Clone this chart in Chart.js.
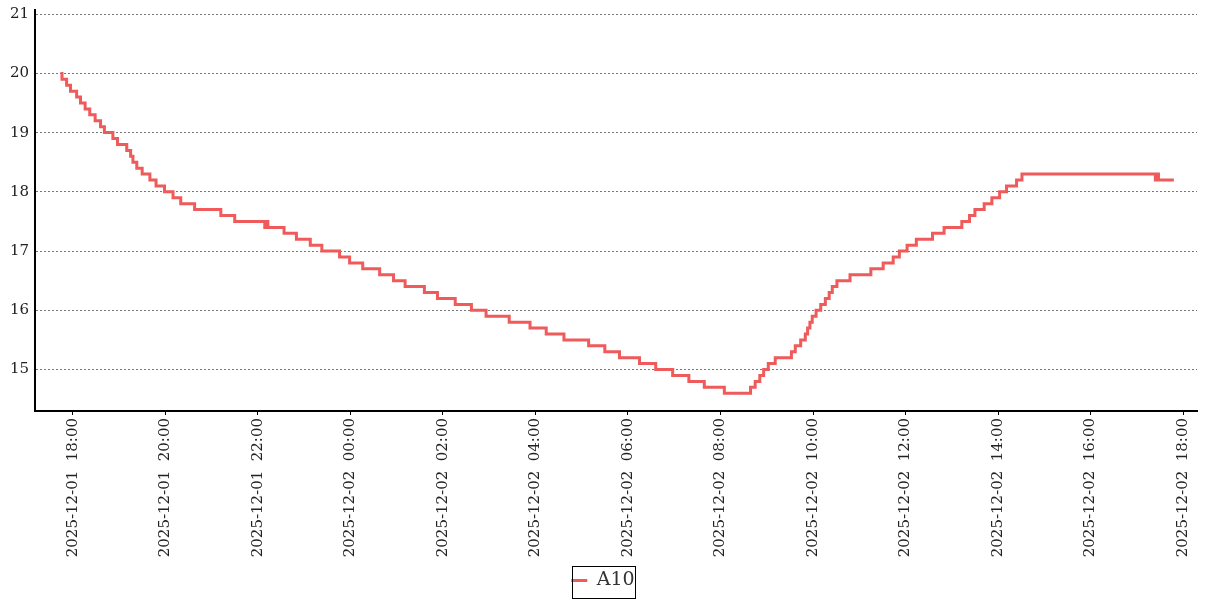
<!DOCTYPE html>
<html>
<head>
<meta charset="utf-8">
<script src="https://cdn.jsdelivr.net/npm/chart.js@4.4.1/dist/chart.umd.min.js"></script>
<style>
  html, body { margin: 0; padding: 0; background: #fff; }
  #wrap { width: 1207px; height: 600px; position: relative; }
</style>
</head>
<body>
<div id="wrap"><canvas id="myChart"></canvas></div>
<script>
// ---------------------------------------------- A10 temperature -------------------------------------------
const seriesName = "A10";

// time at which each new reading starts (value holds until the next one)
const readTimes = [
    "2025-12-01 17:44", "2025-12-01 17:46", "2025-12-01 17:52", "2025-12-01 17:57", "2025-12-01 18:05",
    "2025-12-01 18:10", "2025-12-01 18:16", "2025-12-01 18:22", "2025-12-01 18:29", "2025-12-01 18:36",
    "2025-12-01 18:41", "2025-12-01 18:52", "2025-12-01 18:58", "2025-12-01 19:10", "2025-12-01 19:15",
    "2025-12-01 19:18", "2025-12-01 19:23", "2025-12-01 19:30", "2025-12-01 19:40", "2025-12-01 19:48",
    "2025-12-01 19:59", "2025-12-01 20:10", "2025-12-01 20:20", "2025-12-01 20:38", "2025-12-01 21:12",
    "2025-12-01 21:30", "2025-12-01 22:09", "2025-12-01 22:12", "2025-12-01 22:13", "2025-12-01 22:34",
    "2025-12-01 22:50", "2025-12-01 23:08", "2025-12-01 23:23", "2025-12-01 23:46", "2025-12-01 23:59",
    "2025-12-02 00:16", "2025-12-02 00:38", "2025-12-02 00:56", "2025-12-02 01:11", "2025-12-02 01:36",
    "2025-12-02 01:53", "2025-12-02 02:16", "2025-12-02 02:37", "2025-12-02 02:56", "2025-12-02 03:26",
    "2025-12-02 03:53", "2025-12-02 04:14", "2025-12-02 04:37", "2025-12-02 05:09", "2025-12-02 05:30",
    "2025-12-02 05:49", "2025-12-02 06:15", "2025-12-02 06:36", "2025-12-02 06:58", "2025-12-02 07:19",
    "2025-12-02 07:39", "2025-12-02 08:05", "2025-12-02 08:39", "2025-12-02 08:45", "2025-12-02 08:51",
    "2025-12-02 08:56", "2025-12-02 09:02", "2025-12-02 09:11", "2025-12-02 09:32", "2025-12-02 09:37",
    "2025-12-02 09:44", "2025-12-02 09:50", "2025-12-02 09:53", "2025-12-02 09:56", "2025-12-02 09:59",
    "2025-12-02 10:04", "2025-12-02 10:10", "2025-12-02 10:16", "2025-12-02 10:21", "2025-12-02 10:25",
    "2025-12-02 10:31", "2025-12-02 10:48", "2025-12-02 11:15", "2025-12-02 11:31", "2025-12-02 11:44",
    "2025-12-02 11:52", "2025-12-02 12:02", "2025-12-02 12:14", "2025-12-02 12:35", "2025-12-02 12:50",
    "2025-12-02 13:13", "2025-12-02 13:23", "2025-12-02 13:30", "2025-12-02 13:42", "2025-12-02 13:52",
    "2025-12-02 14:02", "2025-12-02 14:11", "2025-12-02 14:24", "2025-12-02 14:31", "2025-12-02 17:24",
    "2025-12-02 17:27", "2025-12-02 17:28", "2025-12-02 17:48"
];
const readValues = [
    20.0, 19.9, 19.8, 19.7, 19.6,
    19.5, 19.4, 19.3, 19.2, 19.1,
    19.0, 18.9, 18.8, 18.7, 18.6,
    18.5, 18.4, 18.3, 18.2, 18.1,
    18.0, 17.9, 17.8, 17.7, 17.6,
    17.5, 17.4, 17.5, 17.4, 17.3,
    17.2, 17.1, 17.0, 16.9, 16.8,
    16.7, 16.6, 16.5, 16.4, 16.3,
    16.2, 16.1, 16.0, 15.9, 15.8,
    15.7, 15.6, 15.5, 15.4, 15.3,
    15.2, 15.1, 15.0, 14.9, 14.8,
    14.7, 14.6, 14.7, 14.8, 14.9,
    15.0, 15.1, 15.2, 15.3, 15.4,
    15.5, 15.6, 15.7, 15.8, 15.9,
    16.0, 16.1, 16.2, 16.3, 16.4,
    16.5, 16.6, 16.7, 16.8, 16.9,
    17.0, 17.1, 17.2, 17.3, 17.4,
    17.5, 17.6, 17.7, 17.8, 17.9,
    18.0, 18.1, 18.2, 18.3, 18.2,
    18.3, 18.2, 18.2
];

const xTickLabels = [
    "2025-12-01  18:00", "2025-12-01  20:00", "2025-12-01  22:00", "2025-12-02  00:00",
    "2025-12-02  02:00", "2025-12-02  04:00", "2025-12-02  06:00", "2025-12-02  08:00",
    "2025-12-02  10:00", "2025-12-02  12:00", "2025-12-02  14:00", "2025-12-02  16:00",
    "2025-12-02  18:00"
];
const yTicks = [15, 16, 17, 18, 19, 20, 21];

const xStart = "2025-12-01 17:11";
const xEnd = "2025-12-02 18:18";

// hours counted from 2025-12-01 00:00
function toHours(s) {
    s = s.replace(/\s+/g, " ");
    const day = Number(s.slice(8, 10)) - 1;
    const hh = Number(s.slice(11, 13));
    const mm = Number(s.slice(14, 16));
    return day * 24 + hh + mm / 60;
}

const points = readTimes.map((t, i) => ({ x: toHours(t), y: readValues[i] }));
const xTickHours = xTickLabels.map(toHours);

const tickFont = { family: "DejaVu Serif", size: 15 };

// box around the legend
const legendBox = {
    id: "legendBox",
    afterDraw(chart) {
        const lg = chart.legend;
        if (!lg || !lg.legendHitBoxes.length) return;
        const hb = lg.legendHitBoxes[0];
        const cy = Math.round(hb.top + hb.height / 2) + 2;
        const ctx = chart.ctx;
        ctx.save();
        ctx.strokeStyle = "#000";
        ctx.lineWidth = 1;
        ctx.strokeRect(Math.round(hb.left) + 1.5, cy - 16.5, Math.round(hb.width), 32);
        ctx.restore();
    },
};

const data = {
    datasets: [
        {
            label: seriesName,
            data: points,
            stepped: true,
            borderColor: "#ef5a5a",
            backgroundColor: "#ef5a5a",
            borderWidth: 3,
            pointRadius: 0,
            fill: false,
        },
    ],
};

const config = {
    type: "line",
    data: data,
    plugins: [legendBox],
    options: {
        animation: false,
        responsive: true,
        maintainAspectRatio: false,
        layout: { padding: { top: 10, right: 10, left: 9, bottom: 0 } },
        scales: {
            x: {
                type: "linear",
                min: toHours(xStart),
                max: toHours(xEnd),
                afterBuildTicks: (scale) => {
                    scale.ticks = xTickHours.map((v) => ({ value: v }));
                },
                afterFit: (scale) => { scale.height = 152; },
                ticks: {
                    autoSkip: false,
                    minRotation: 90,
                    maxRotation: 90,
                    padding: 3,
                    color: "#222",
                    font: tickFont,
                    callback: (value) => {
                        const i = xTickHours.indexOf(value);
                        return i >= 0 ? xTickLabels[i] : "";
                    },
                },
                grid: {
                    drawOnChartArea: false,
                    drawTicks: true,
                    tickLength: 4,
                    color: "#000",
                },
                border: { color: "#000", width: 2 },
            },
            y: {
                min: 14.3,
                max: 21.07,
                afterBuildTicks: (scale) => {
                    scale.ticks = yTicks.map((v) => ({ value: v }));
                },
                afterFit: (scale) => {
                    scale.width = 26;
                    scale.paddingTop = 0;
                    scale.paddingBottom = 0;
                },
                ticks: {
                    padding: 6,
                    color: "#222",
                    font: tickFont,
                },
                grid: {
                    color: "#777",
                    lineWidth: 1,
                    drawTicks: false,
                },
                border: { color: "#000", width: 2, dash: [2, 2] },
            },
        },
        plugins: {
            tooltip: { enabled: false },
            legend: {
                display: true,
                position: "bottom",
                labels: {
                    usePointStyle: true,
                    pointStyle: "line",
                    pointStyleWidth: 16,
                    boxWidth: 16,
                    padding: 8,
                    color: "#333",
                    font: { family: "DejaVu Serif", size: 19 },
                },
            },
        },
    },
};

const myChart = new Chart(document.getElementById("myChart").getContext("2d"), config);
</script>
</body>
</html>
